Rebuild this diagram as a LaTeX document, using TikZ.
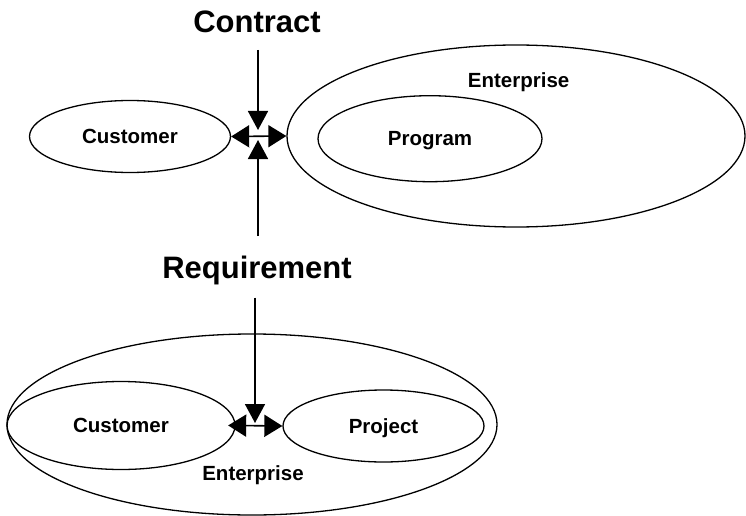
\documentclass[tikz,border=0pt]{standalone}
\usepackage{fontspec}
\setmainfont{Liberation Sans}
\usetikzlibrary{shapes.geometric,arrows.meta}

\tikzset{
  blob/.style={draw, ellipse, line width=1.3pt, inner sep=0pt, text height=14.5pt, text depth=0pt,
    font=\bfseries\fontsize{20.5}{24}\selectfont},
  tag/.style={font=\bfseries\fontsize{20.5}{24}\selectfont, anchor=base, inner sep=0pt},
  title/.style={font=\bfseries\fontsize{31}{36}\selectfont, anchor=base, inner sep=0pt},
  link/.style={line width=1.6pt, -{Triangle[length=19pt,width=20pt]}},
  twoway/.style={line width=1.6pt, {Triangle[length=18pt,width=22pt]}-{Triangle[length=18pt,width=22pt]}}
}

\begin{document}
\begin{tikzpicture}[x=1pt,y=-1pt]
		\useasboundingbox (0,0) rectangle (746,516);
		% contract side
		\node[title] (contract) at (257,32.3) {Contract};
		\node[blob, minimum width=201pt, minimum height=72pt] (cust1) at (130,136.5) {Customer};
		\node[blob, minimum width=458pt, minimum height=182pt] (ent1) at (516,136) {};
		\node[tag] (ent1lbl) at (518.6,87.3) {Enterprise};
		\node[blob, minimum width=224pt, minimum height=86pt] (prog) at (430,138.7) {Program};
		\coordinate (ctop) at (258,50);
		\coordinate (ctip) at (258,130);
		\coordinate (rtop) at (258,236);
		\coordinate (rtip) at (258,140);
		\draw[link] (ctop) -- (ctip);
		\draw[link] (rtop) -- (rtip);
		\draw[twoway] (cust1.east) -- (ent1.west);
		% requirement side
		\node[title] (requirement) at (257,278.3) {Requirement};
		\node[blob, minimum width=490pt, minimum height=181pt] (ent2) at (252,424.5) {};
		\node[blob, minimum width=228pt, minimum height=88pt] (cust2) at (121,425.5) {Customer};
		\node[blob, minimum width=201pt, minimum height=72pt] (proj) at (383.5,426) {Project};
		\node[tag] (ent2lbl) at (253,480) {Enterprise};
		\coordinate (qtop) at (255,297.7);
		\coordinate (qtip) at (255,423);
		\draw[link] (qtop) -- (qtip);
		\draw[twoway, shorten <=-7.5pt] (cust2.east) -- (proj.west);
	\end{tikzpicture}
\end{document}
